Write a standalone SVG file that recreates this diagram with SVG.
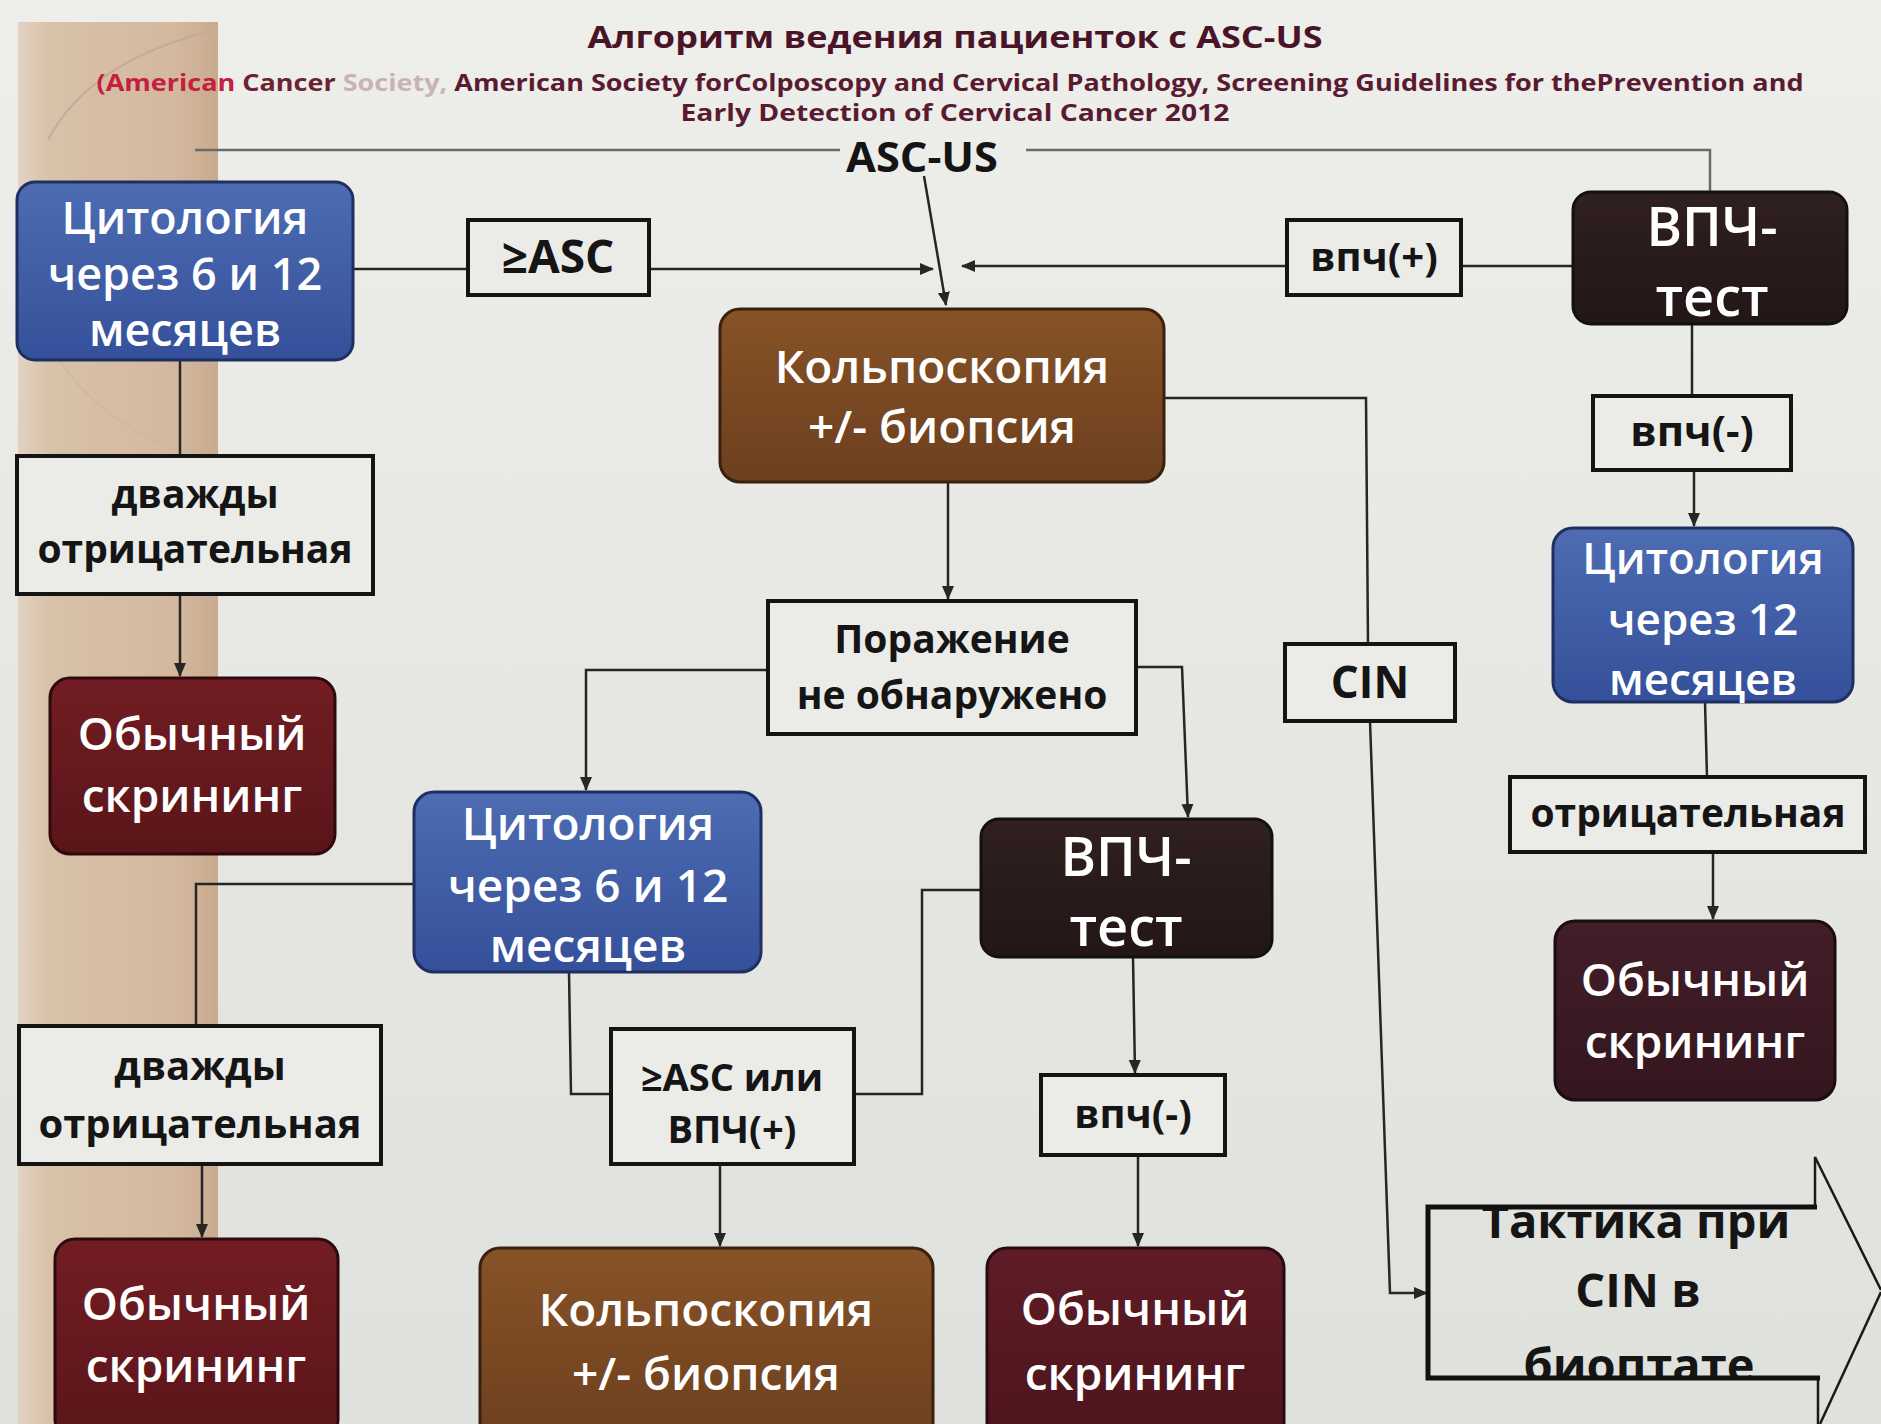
<svg xmlns="http://www.w3.org/2000/svg" width="1881" height="1424" viewBox="0 0 1881 1424">
<defs>
<style>
.lbl{fill:#ebebe8;stroke:#141414;stroke-width:4}
.lt{font-family:"Open Sans","Noto Sans","DejaVu Sans",sans-serif;font-weight:700;fill:#151515;text-anchor:middle}
.nt{font-family:"Open Sans","Noto Sans","DejaVu Sans",sans-serif;font-weight:600;fill:#ffffff;text-anchor:middle}
.ttl{font-family:"Open Sans","Noto Sans","DejaVu Sans",sans-serif;font-weight:700;text-anchor:middle}
.cn{fill:none;stroke:#262626;stroke-width:2.5}
.cnl{fill:none;stroke:#6a6a6a;stroke-width:2.5}
</style>
<linearGradient id="bg" x1="0" y1="0" x2="0" y2="1">
<stop offset="0" stop-color="#eeeeea"/>
<stop offset="1" stop-color="#dfe1dd"/>
</linearGradient>
<linearGradient id="strip" x1="0" y1="0" x2="1" y2="0">
<stop offset="0" stop-color="#e2d2c2"/>
<stop offset="0.15" stop-color="#d8c2aa"/>
<stop offset="0.8" stop-color="#d3b89e"/>
<stop offset="1" stop-color="#c9aa8e"/>
</linearGradient>
<linearGradient id="blue" x1="0" y1="0" x2="0" y2="1">
<stop offset="0" stop-color="#4d6cb2"/>
<stop offset="1" stop-color="#34509a"/>
</linearGradient>
<linearGradient id="brown" x1="0" y1="0" x2="0" y2="1">
<stop offset="0" stop-color="#875327"/>
<stop offset="1" stop-color="#6c3f1e"/>
</linearGradient>
<linearGradient id="dark" x1="0" y1="0" x2="0" y2="1">
<stop offset="0" stop-color="#302020"/>
<stop offset="1" stop-color="#231616"/>
</linearGradient>
<linearGradient id="maroon" x1="0" y1="0" x2="0" y2="1">
<stop offset="0" stop-color="#721d23"/>
<stop offset="1" stop-color="#5a1519"/>
</linearGradient>
<linearGradient id="maroon2" x1="0" y1="0" x2="0" y2="1">
<stop offset="0" stop-color="#5f1c26"/>
<stop offset="1" stop-color="#4c141c"/>
</linearGradient>
<linearGradient id="maroon3" x1="0" y1="0" x2="0" y2="1">
<stop offset="0" stop-color="#421e28"/>
<stop offset="1" stop-color="#34161e"/>
</linearGradient>
<marker id="arr" markerUnits="userSpaceOnUse" markerWidth="16" markerHeight="16" refX="13" refY="7" orient="auto">
<path d="M0,1 L14,7 L0,13 Z" fill="#262626"/>
</marker>
<clipPath id="tclip"><rect x="1430" y="1209" width="385" height="168"/></clipPath>
</defs>

<!-- background -->
<rect x="0" y="0" width="1881" height="1424" fill="url(#bg)"/>
<rect x="18" y="22" width="200" height="1402" fill="url(#strip)"/>
<path d="M48,140 Q90,60 215,30" fill="none" stroke="#c4ab95" stroke-width="2"/>
<path d="M30,300 Q70,420 205,460" fill="none" stroke="#cdb49c" stroke-width="2" opacity="0.6"/>

<!-- titles -->
<g id="title">
<text class="ttl" x="955" y="48" font-size="31" fill="#4a1428" textLength="735" lengthAdjust="spacingAndGlyphs">Алгоритм ведения пациенток с  ASC-US</text>
<text class="ttl" x="950" y="91" font-size="24" fill="#5a1a32" textLength="1707" lengthAdjust="spacingAndGlyphs"><tspan fill="#c42040">(American</tspan> <tspan fill="#6a2434">Cancer</tspan> <tspan fill="#c9b3b9">Society,</tspan> American Society forColposcopy and Cervical Pathology, Screening Guidelines for thePrevention and</text>
<text class="ttl" x="955" y="121" font-size="24" fill="#5a1a32" textLength="549" lengthAdjust="spacingAndGlyphs">Early Detection of Cervical Cancer 2012</text>
</g>

<!-- connectors -->
<g id="connectors">
<path class="cnl" d="M195,150 H840"/>
<path class="cnl" d="M1026,150 H1710 V192"/>
<path class="cn" d="M924,176 L946,305" marker-end="url(#arr)"/>
<path class="cn" d="M353,269 H468"/>
<path class="cn" d="M649,269 H933" marker-end="url(#arr)"/>
<path class="cn" d="M1573,266 H1461"/>
<path class="cn" d="M1287,266 H962" marker-end="url(#arr)"/>
<path class="cn" d="M180,360 V456"/>
<path class="cn" d="M180,594 V676" marker-end="url(#arr)"/>
<path class="cn" d="M948,482 V599" marker-end="url(#arr)"/>
<path class="cn" d="M1164,398 H1366 L1368,644"/>
<path class="cn" d="M1370,721 L1390,1293 H1427" marker-end="url(#arr)"/>
<path class="cn" d="M1692,324 V396"/>
<path class="cn" d="M1694,470 V526" marker-end="url(#arr)"/>
<path class="cn" d="M1705,702 L1707,777"/>
<path class="cn" d="M1713,852 V919" marker-end="url(#arr)"/>
<path class="cn" d="M768,670 H586 V790" marker-end="url(#arr)"/>
<path class="cn" d="M1136,667 H1182 L1188,817" marker-end="url(#arr)"/>
<path class="cn" d="M414,884 H196 V1026"/>
<path class="cn" d="M202,1164 V1237" marker-end="url(#arr)"/>
<path class="cn" d="M569,972 L571,1094 H611"/>
<path class="cn" d="M981,890 H922 V1094 H854"/>
<path class="cn" d="M720,1164 V1246" marker-end="url(#arr)"/>
<path class="cn" d="M1133,957 L1135,1073" marker-end="url(#arr)"/>
<path class="cn" d="M1138,1155 V1246" marker-end="url(#arr)"/>
</g>

<g id="asc-us"><text class="ttl" x="922" y="172" font-size="42" fill="#141414" textLength="152" lengthAdjust="spacingAndGlyphs">ASC-US</text></g>

<g id="cyt1">
<rect x="17" y="182" width="336" height="178" rx="18" fill="url(#blue)" stroke="#1f2f60" stroke-width="3"/>
<text class="nt" font-size="45" x="185" y="234">Цитология</text>
<text class="nt" font-size="45" x="185" y="290">через 6 и 12</text>
<text class="nt" font-size="45" x="185" y="346">месяцев</text>
</g>

<g id="asc-box">
<rect class="lbl" x="468" y="220" width="181" height="75"/>
<text class="lt" font-size="46" x="558" y="273">≥ASC</text>
</g>

<g id="kolpo1">
<rect x="720" y="309" width="444" height="173" rx="20" fill="url(#brown)" stroke="#3a200e" stroke-width="3"/>
<text class="nt" font-size="46" x="942" y="383">Кольпоскопия</text>
<text class="nt" font-size="46" x="942" y="443">+/-  биопсия</text>
</g>

<g id="vpch-plus">
<rect class="lbl" x="1287" y="220" width="174" height="75"/>
<text class="lt" font-size="40" x="1374" y="271">впч(+)</text>
</g>

<g id="vpch-test1">
<rect x="1573" y="192" width="274" height="132" rx="18" fill="url(#dark)" stroke="#111" stroke-width="3"/>
<text class="nt" font-size="54" x="1712" y="246">ВПЧ-</text>
<text class="nt" font-size="54" x="1712" y="316">тест</text>
</g>

<g id="vpch-minus1">
<rect class="lbl" x="1593" y="396" width="198" height="74"/>
<text class="lt" font-size="42" x="1692" y="446">впч(-)</text>
</g>

<g id="cyt12">
<rect x="1553" y="528" width="300" height="174" rx="20" fill="url(#blue)" stroke="#1f2f60" stroke-width="3"/>
<text class="nt" font-size="44" x="1703" y="574" fill="#dcdcf4">Цитология</text>
<text class="nt" font-size="44" x="1703" y="635" fill="#dcdcf4">через 12</text>
<text class="nt" font-size="44" x="1703" y="695" fill="#dcdcf4">месяцев</text>
</g>

<g id="neg-right">
<rect class="lbl" x="1510" y="777" width="355" height="75"/>
<text class="lt" font-size="39" x="1688" y="827">отрицательная</text>
</g>

<g id="screen-right">
<rect x="1555" y="921" width="280" height="179" rx="20" fill="url(#maroon3)" stroke="#1a0c10" stroke-width="3"/>
<text class="nt" font-size="46" x="1695" y="996" fill="#e6d6da">Обычный</text>
<text class="nt" font-size="46" x="1695" y="1058" fill="#e6d6da">скрининг</text>
</g>

<g id="twice-neg1">
<rect class="lbl" x="17" y="456" width="356" height="138"/>
<text class="lt" font-size="39" x="195" y="508">дважды</text>
<text class="lt" font-size="39" x="195" y="563">отрицательная</text>
</g>

<g id="screen1">
<rect x="50" y="678" width="285" height="176" rx="20" fill="url(#maroon)" stroke="#2e0a0c" stroke-width="3"/>
<text class="nt" font-size="46" x="192" y="750">Обычный</text>
<text class="nt" font-size="46" x="192" y="812">скрининг</text>
</g>

<g id="no-lesion">
<rect class="lbl" x="768" y="601" width="368" height="133"/>
<text class="lt" font-size="39" x="952" y="653">Поражение</text>
<text class="lt" font-size="39" x="952" y="709">не обнаружено</text>
</g>

<g id="cin-box">
<rect class="lbl" x="1285" y="644" width="170" height="77"/>
<text class="lt" font-size="44" x="1370" y="698">CIN</text>
</g>

<g id="cyt2">
<rect x="414" y="792" width="347" height="180" rx="20" fill="url(#blue)" stroke="#1f2f60" stroke-width="3"/>
<text class="nt" font-size="46" x="588" y="840">Цитология</text>
<text class="nt" font-size="46" x="588" y="902">через 6 и 12</text>
<text class="nt" font-size="46" x="588" y="962">месяцев</text>
</g>

<g id="vpch-test2">
<rect x="981" y="819" width="291" height="138" rx="18" fill="url(#dark)" stroke="#111" stroke-width="3"/>
<text class="nt" font-size="54" x="1126" y="876">ВПЧ-</text>
<text class="nt" font-size="54" x="1126" y="946">тест</text>
</g>

<g id="twice-neg2">
<rect class="lbl" x="19" y="1026" width="362" height="138"/>
<text class="lt" font-size="40" x="200" y="1080">дважды</text>
<text class="lt" font-size="40" x="200" y="1138">отрицательная</text>
</g>

<g id="asc-or-vpch">
<rect class="lbl" x="611" y="1029" width="243" height="135"/>
<text class="lt" font-size="38" x="732" y="1091">≥ASC или</text>
<text class="lt" font-size="38" x="732" y="1143">ВПЧ(+)</text>
</g>

<g id="vpch-minus2">
<rect class="lbl" x="1041" y="1075" width="184" height="80"/>
<text class="lt" font-size="40" x="1133" y="1128">впч(-)</text>
</g>

<g id="screen2">
<rect x="55" y="1239" width="283" height="200" rx="20" fill="url(#maroon)" stroke="#2e0a0c" stroke-width="3"/>
<text class="nt" font-size="46" x="196" y="1320">Обычный</text>
<text class="nt" font-size="46" x="196" y="1382">скрининг</text>
</g>

<g id="kolpo2">
<rect x="480" y="1248" width="453" height="200" rx="20" fill="url(#brown)" stroke="#3a200e" stroke-width="3"/>
<text class="nt" font-size="46" x="706" y="1326">Кольпоскопия</text>
<text class="nt" font-size="46" x="706" y="1390">+/-  биопсия</text>
</g>

<g id="screen3">
<rect x="987" y="1248" width="297" height="200" rx="20" fill="url(#maroon2)" stroke="#2a0a10" stroke-width="3"/>
<text class="nt" font-size="46" x="1135" y="1325">Обычный</text>
<text class="nt" font-size="46" x="1135" y="1390">скрининг</text>
</g>

<g id="cin-tactic">
<g clip-path="url(#tclip)">
<text class="lt" font-size="47" x="1636" y="1238">Тактика при</text>
<text class="lt" font-size="47" x="1638" y="1307">CIN в</text>
<text class="lt" font-size="47" x="1639" y="1382">биоптате</text>
</g>
<path d="M1815,1207 V1157 L1881,1290" fill="none" stroke="#1a1a1a" stroke-width="2.5"/>
<path d="M1881,1292 L1820,1424" fill="none" stroke="#1a1a1a" stroke-width="2.5"/>
<path d="M1818,1378 V1424" fill="none" stroke="#1a1a1a" stroke-width="2.5"/>
<path d="M1817,1207 H1428 V1378 H1820" fill="none" stroke="#111" stroke-width="5"/>
</g>
</svg>
